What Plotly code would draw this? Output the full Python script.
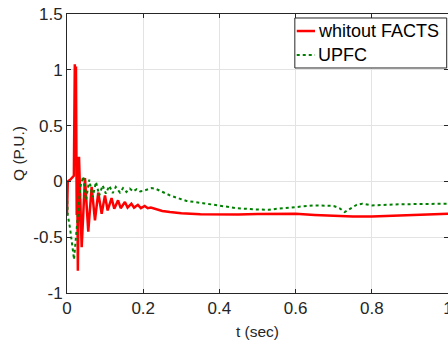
import plotly.graph_objects as go

# Reactive power response, no compensation
t_base = [0.0, 0.002, 0.010, 0.018, 0.0205, 0.022, 0.0235, 0.025, 0.0255, 0.0265,
          0.0285, 0.0315, 0.0385, 0.0472, 0.0558, 0.0647, 0.0734, 0.082, 0.091, 0.0996,
          0.1067, 0.117, 0.124, 0.134, 0.141, 0.152, 0.159, 0.169, 0.176, 0.186,
          0.194, 0.204, 0.212, 0.22, 0.25, 0.27, 0.3, 0.35, 0.4, 0.45,
          0.5, 0.55, 0.6, 0.65, 0.7, 0.75, 0.8, 0.85, 0.9, 0.95, 1.0]
q_base = [-0.30, 0.00, 0.02, 0.05, 1.05, 0.70, 1.03, 0.25, -0.30, 0.22,
          -0.80, 0.22, -0.59, 0.03, -0.45, -0.05, -0.35, -0.10, -0.29, -0.125,
          -0.26, -0.15, -0.245, -0.17, -0.24, -0.185, -0.235, -0.20, -0.235, -0.21,
          -0.24, -0.22, -0.24, -0.235, -0.265, -0.275, -0.285, -0.295, -0.298, -0.297,
          -0.293, -0.29, -0.29, -0.30, -0.31, -0.315, -0.315, -0.31, -0.305, -0.298, -0.29]

# Reactive power response with UPFC
t_upfc = [0.0, 0.002, 0.008, 0.013, 0.0185, 0.0235, 0.029, 0.035, 0.0427, 0.0498,
          0.0585, 0.0674, 0.076, 0.0847, 0.0936, 0.102, 0.111, 0.12, 0.128, 0.139,
          0.147, 0.156, 0.165, 0.174, 0.183, 0.192, 0.2, 0.212, 0.222, 0.232,
          0.245, 0.27, 0.3, 0.314, 0.357, 0.4, 0.445, 0.49, 0.53, 0.55,
          0.6, 0.65, 0.7, 0.715, 0.729, 0.745, 0.76, 0.775, 0.8, 0.87, 0.93, 1.0]
q_upfc = [-0.12, -0.30, -0.42, -0.58, -0.70, -0.50, -0.25, -0.05, 0.045, -0.17,
          0.015, -0.14, -0.005, -0.125, -0.035, -0.11, -0.04, -0.105, -0.05, -0.10,
          -0.06, -0.095, -0.065, -0.09, -0.07, -0.09, -0.085, -0.075, -0.06, -0.065,
          -0.085, -0.125, -0.16, -0.175, -0.195, -0.22, -0.24, -0.25, -0.255, -0.245,
          -0.228, -0.215, -0.22, -0.24, -0.275, -0.24, -0.21, -0.20, -0.215, -0.205, -0.205, -0.20]

series_names = ["whitout FACTS", "UPFC"]
series_colors = ["#ff0000", "#008000"]
series_dash = ["solid", "dot"]
series_width = [2.5, 2]

x_ticks = [0, 0.2, 0.4, 0.6, 0.8, 1]
y_ticks = [-1, -0.5, 0, 0.5, 1, 1.5]

FONT = "Liberation Sans, Arial, sans-serif"
INK = "#262626"
GRID = "#e3e3e3"

fig = go.Figure()
for tx, qy, name, col, dash, w in zip([t_base, t_upfc], [q_base, q_upfc], series_names,
                                      series_colors, series_dash, series_width):
    fig.add_trace(go.Scatter(x=tx, y=qy, mode="lines", name=name, showlegend=False,
                             line=dict(color=col, width=w, dash=dash)))

axis_common = dict(showline=True, linecolor=INK, linewidth=1, mirror="ticks",
                   ticks="inside", ticklen=4, tickcolor=INK,
                   showgrid=True, gridcolor=GRID, gridwidth=1, zeroline=False,
                   ticklabeloverflow="allow", automargin=False,
                   tickfont=dict(family=FONT, size=17, color=INK))

fig.update_xaxes(range=[0, 1], tickvals=x_ticks, ticktext=[f"{v:g}" for v in x_ticks],
                 title=dict(text="t (sec)", font=dict(family=FONT, size=15.5, color=INK), standoff=8),
                 **axis_common)
fig.update_yaxes(range=[-1, 1.5], tickvals=y_ticks, ticktext=[f"{v:g}" for v in y_ticks],
                 title=dict(text="Q (P.U.)", font=dict(family=FONT, size=15.5, color=INK), standoff=4),
                 **axis_common)

# Compact boxed legend in the upper-right corner of the axes
box_x0, box_x1 = 0.598, 0.9966
box_y0, box_y1 = 0.8065, 0.9857
row_y = [0.939, 0.853]
fig.add_shape(type="rect", xref="paper", yref="paper", x0=box_x0, x1=box_x1, y0=box_y0, y1=box_y1,
              line=dict(color=INK, width=1), fillcolor="white", layer="above")
for ry, name, col, dash, w in zip(row_y, series_names, series_colors, series_dash, series_width):
    fig.add_shape(type="line", xref="paper", yref="paper", x0=box_x0 + 0.005, x1=box_x0 + 0.053,
                  y0=ry, y1=ry, line=dict(color=col, width=w, dash=dash), layer="above")
    fig.add_annotation(xref="paper", yref="paper", x=box_x0 + 0.056, y=ry, text=name,
                       showarrow=False, xanchor="left", yanchor="middle",
                       font=dict(family=FONT, size=18, color="black"))

fig.update_layout(
    width=448, height=343,
    margin=dict(l=67, r=0, t=14, b=50),
    plot_bgcolor="white", paper_bgcolor="white",
    font=dict(family=FONT, color=INK),
)

fig.write_html("out.html")
